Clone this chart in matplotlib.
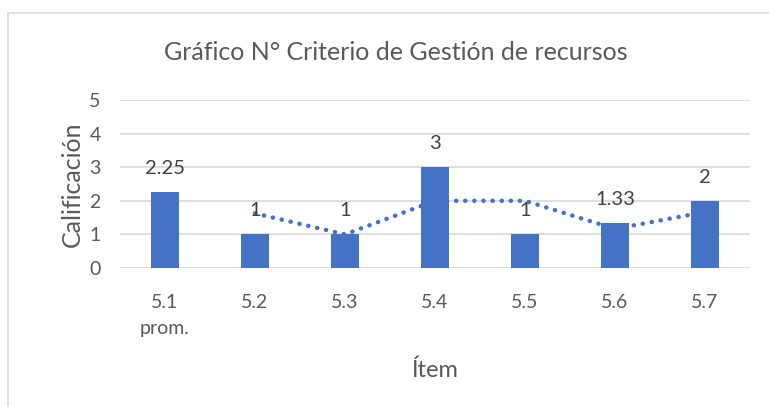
import matplotlib.pyplot as plt
from matplotlib.patches import Rectangle
import numpy as np

# datos del grafico
items = ["5.1\nprom.", "5.2", "5.3", "5.4", "5.5", "5.6", "5.7"]
calificacion = [2.25, 1, 1, 3, 1, 1.33, 2]
etiquetas = ["2.25", "1", "1", "3", "1", "1.33", "2"]

plt.rcParams['font.family'] = ['Lato', 'DejaVu Sans']
texto = '#595959'
azul = '#4472C4'

fig = plt.figure(figsize=(7.69, 4.07), dpi=100)
W, H = 769, 407
ax = fig.add_axes([120 / W, 1 - 268 / H, 630 / W, 168 / H])

x = np.arange(len(items))
ax.bar(x, calificacion, width=0.31, color=azul, zorder=3)

# media movil de 2 periodos (linea de tendencia)
mm = [(calificacion[i - 1] + calificacion[i]) / 2 for i in range(1, len(calificacion))]
ax.plot(x[1:], mm, linestyle=(0, (0.05, 2.0)), color=azul, lw=3.2,
        dash_capstyle='round', zorder=4)

for xi, v, lab in zip(x, calificacion, etiquetas):
    ax.annotate(lab, (xi, v), xytext=(0, 17), textcoords='offset points',
                ha='center', va='center', fontsize=14.5, color='#404040', zorder=5)

ax.set_xlim(-0.5, len(items) - 0.5)
ax.set_ylim(0, 5)
ax.set_yticks(range(6))
ax.yaxis.grid(True, color='#d9d9d9', lw=1.2, zorder=0)
ax.set_xticks(x)
ax.set_xticklabels(items, fontsize=14, color=texto, linespacing=1.6, va='top')
ax.tick_params(axis='y', labelsize=14, labelcolor=texto, length=0, pad=14)
ax.tick_params(axis='x', length=0, pad=19)
for s in ax.spines.values():
    s.set_visible(False)

ax.set_ylabel("Calificación", fontsize=18, color=texto, labelpad=4)
ax.set_xlabel("Ítem", fontsize=17, color=texto, labelpad=16)

fig.text(396 / W, 1 - 53 / H, "Gráfico N° Criterio de Gestión de recursos",
         ha='center', va='center', fontsize=18, color=texto)

fig.patches.append(Rectangle((8 / W, -0.1), 2, 1.1 - 13 / H, transform=fig.transFigure,
                             fill=False, edgecolor='#d9d9d9', lw=1.2))

fig.savefig("out.png", dpi=100)
